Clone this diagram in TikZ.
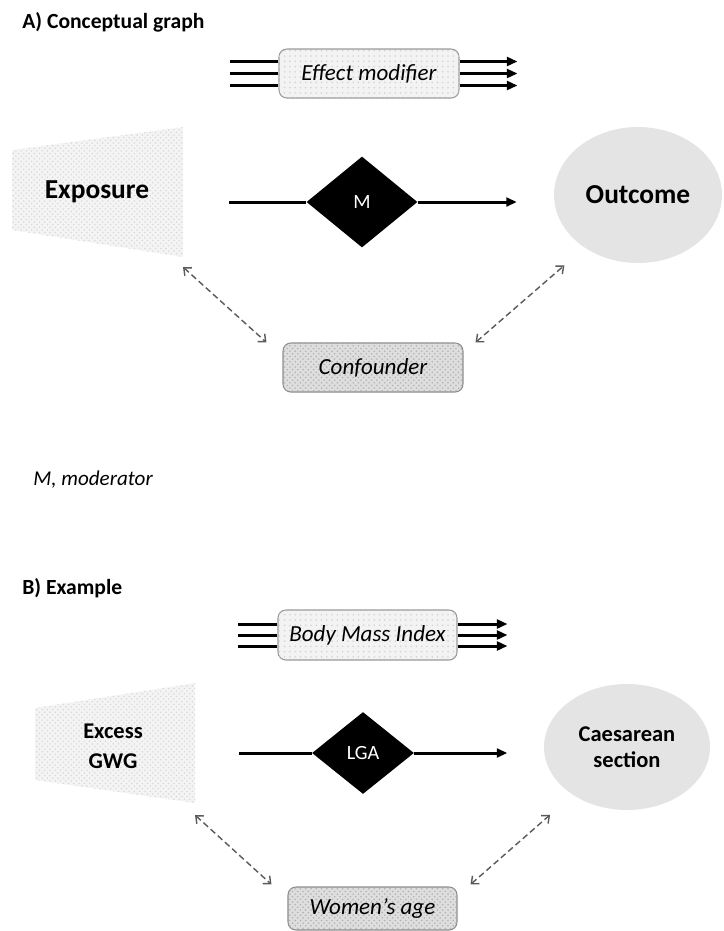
\documentclass[tikz,border=0pt]{standalone}
\usepackage{fontspec}
\setmainfont{Carlito}
\usetikzlibrary{arrows.meta,positioning,shapes.geometric,patterns}
\definecolor{modcol}{HTML}{F3F3F3}
\definecolor{expcol}{HTML}{F4F4F4}
\definecolor{confcol}{HTML}{DEDEDE}
\definecolor{ellcol}{HTML}{E4E4E4}
\definecolor{dashcol}{HTML}{5A5A5A}

\begin{document}
\begin{tikzpicture}[
  x=0.02cm, y=-0.02cm,
  every node/.style={inner sep=0pt},
  ttl/.style={anchor=west, font=\fontsize{12.3}{15}\selectfont\bfseries},
  note/.style={anchor=west, font=\fontsize{12}{14}\selectfont\itshape},
  modbox/.style={draw=gray!80, line width=0.6pt, rounded corners=4.5pt, fill=modcol,
    postaction={pattern=dots, pattern color=gray!35},
    minimum width=3.6cm, minimum height=0.98cm, font=\fontsize{13.1}{15}\selectfont\itshape},
  confbox/.style={draw=gray!90, line width=0.6pt, rounded corners=4.5pt, fill=confcol,
    postaction={pattern=crosshatch dots, pattern color=gray!60},
    minimum width=3.6cm, minimum height=0.98cm, font=\fontsize{13.1}{15}\selectfont\itshape},
  expfill/.style={fill=expcol, postaction={pattern=crosshatch dots, pattern color=gray!30}},
  bigtxt/.style={font=\fontsize{15.6}{18}\selectfont\bfseries, align=center},
  midtxt/.style={font=\fontsize{12.8}{17}\selectfont\bfseries, align=center},
  outell/.style={ellipse, fill=ellcol},
  moddia/.style={diamond, fill=black, text=white, font=\fontsize{11.5}{13}\selectfont},
  thk/.style={line width=1.7pt},
  arr/.style={thk, -{Triangle[length=6pt,width=5pt]}},
  darr/.style={draw=dashcol, line width=0.8pt, dash pattern=on 3.5pt off 2pt,
    {Straight Barb[length=3.5pt,width=6pt]}-{Straight Barb[length=3.5pt,width=6pt]}},
]
\useasboundingbox (0,0) rectangle (724,931);

% A) conceptual graph
\node[ttl] (ttlA) at (22,22) {A) Conceptual graph};

\node[modbox] (effA) at (369,73.5) {Effect modifier};
\foreach \dy in {-0.24,0,0.24}{
  \draw[thk] ([yshift=\dy cm]effA.west) -- ++(-48,0);
  \draw[arr] ([yshift=\dy cm]effA.east) -- ++(58,0);
}

\coordinate (xA1) at (12,150);
\coordinate (xA2) at (183,127);
\coordinate (xA3) at (183,257);
\coordinate (xA4) at (12,230);
\fill[expfill] (xA1) -- (xA2) -- (xA3) -- (xA4) -- cycle;
\node[bigtxt] (expoA) at (97,192) {Exposure};

\node[moddia, minimum width=2.22cm, minimum height=1.82cm] (modA) at (362,202) {M};
\node[outell, bigtxt, minimum width=3.36cm, minimum height=2.72cm] (outA) at (638,195) {Outcome};
\node[confbox] (confA) at (373,367.5) {Confounder};

\draw[thk] (modA.west) -- ++(-77,0);
\draw[arr] (modA.east) -- ++(99,0);

\draw[darr] ([shift={(0,10)}]xA3) -- ([shift={(-16,0)}]confA.north west);
\draw[darr] ([shift={(12,0)}]confA.north east) -- ([shift={(-14,22)}]outA.south west);

\node[note] (noteA) at (33,480) {M, moderator};

% B) example
\node[ttl] (ttlB) at (22,588) {B) Example};

\node[modbox, minimum width=3.58cm, minimum height=1.0cm] (effB) at (367.5,635) {Body Mass Index};
\foreach \dy in {-0.22,0,0.22}{
  \draw[thk] ([yshift=\dy cm]effB.west) -- ++(-39,0);
  \draw[arr] ([yshift=\dy cm]effB.east) -- ++(50,0);
}

\coordinate (xB1) at (35,708);
\coordinate (xB2) at (195,683);
\coordinate (xB3) at (195,803);
\coordinate (xB4) at (35,780);
\fill[expfill] (xB1) -- (xB2) -- (xB3) -- (xB4) -- cycle;
\node[midtxt] (expoB) at (113,746) {Excess\\GWG};

\node[moddia, minimum width=2.04cm, minimum height=1.64cm] (modB) at (363,753) {LGA};
\node[outell, midtxt, font=\fontsize{12.8}{15}\selectfont\bfseries,
      minimum width=3.32cm, minimum height=2.52cm] (outB) at (627,747) {Caesarean\\section};
\node[confbox, minimum width=3.38cm, minimum height=0.86cm] (confB) at (372.5,908.5) {Women’s age};

\draw[thk] (modB.west) -- ++(-73,0);
\draw[arr] (modB.east) -- ++(93,0);

\draw[darr] ([shift={(0,12)}]xB3) -- ([shift={(-16,-2)}]confB.north west);
\draw[darr] ([shift={(13,-2)}]confB.north east) -- ([shift={(-18,23)}]outB.south west);
\end{tikzpicture}
\end{document}
